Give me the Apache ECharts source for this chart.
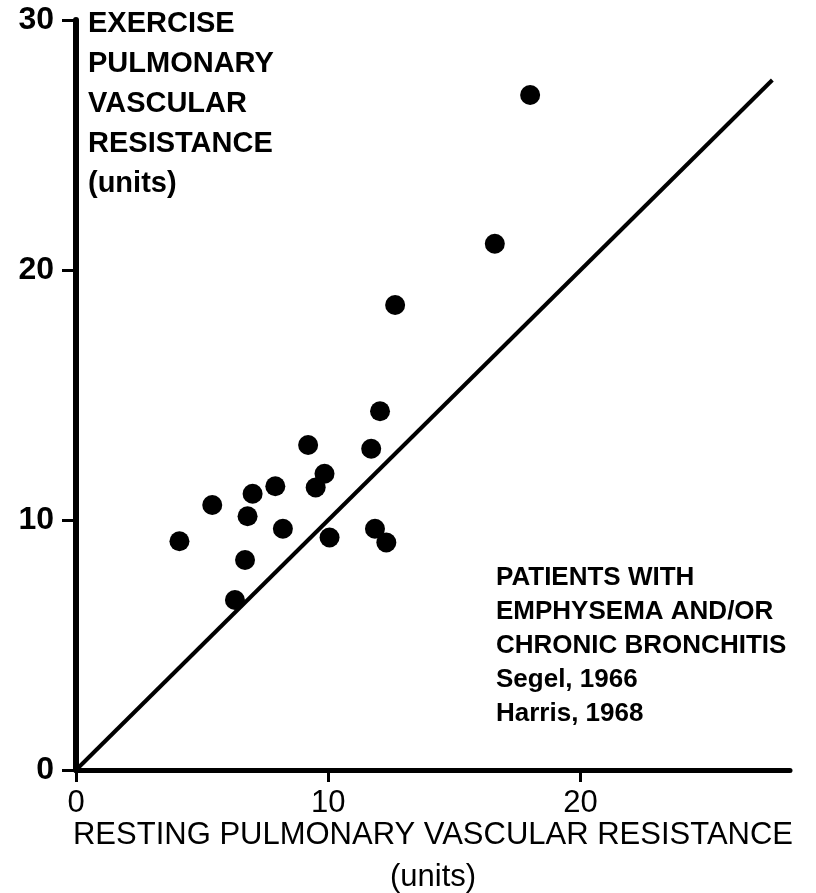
<!DOCTYPE html>
<html>
<head>
<meta charset="utf-8">
<script src="https://cdn.jsdelivr.net/npm/echarts@6/dist/echarts.min.js"></script>
<style>
  html, body { margin: 0; padding: 0; background: #fff; }
  #chart { width: 816px; height: 893px; }
</style>
</head>
<body>
<div id="chart"></div>
<script>
// resting vs exercise PVR, one point per patient
const restingPVR = [4.1, 5.4, 7.0, 6.8, 6.7, 6.3, 7.9, 8.2, 9.2, 9.5, 9.85, 10.05, 11.7, 12.05, 11.85, 12.3, 12.65, 16.6, 18.0]
const exercisePVR = [9.15, 10.6, 11.05, 10.15, 8.4, 6.8, 11.35, 9.65, 13.0, 11.3, 11.85, 9.3, 12.85, 14.35, 9.65, 9.1, 18.6, 21.05, 27.0]
const identityLine = [0, 27.6]
const xTicks = [0, 10, 20]
const yTicks = [0, 10, 20, 30]

const font = 'Liberation Sans, Arial, sans-serif'
const ink = '#000'

const points = restingPVR.map(function(x, i) { return [x, exercisePVR[i]] })

const myChart = echarts.init(document.getElementById('chart'))

myChart.setOption({
  backgroundColor: '#fff',
  animation: false,
  grid: { left: 76, top: 20, right: 26, bottom: 123, outerBoundsMode: 'none', containLabel: false },
  xAxis: {
    type: 'value',
    min: 0,
    max: 28.3,
    name: 'RESTING PULMONARY VASCULAR RESISTANCE\n(units)',
    nameLocation: 'middle',
    nameGap: 44,
    nameMoveOverlap: false,
    nameTextStyle: { fontFamily: font, fontSize: 31, color: ink, lineHeight: 42, verticalAlign: 'top' },
    axisLine: { lineStyle: { color: ink, width: 5 } },
    axisTick: { customValues: xTicks, length: 12, lineStyle: { color: ink, width: 3 } },
    axisLabel: { customValues: xTicks, fontFamily: font, fontSize: 31, color: ink, margin: 18 },
    splitLine: { show: false }
  },
  yAxis: {
    type: 'value',
    min: 0,
    max: 30,
    interval: 10,
    axisLine: { lineStyle: { color: ink, width: 6 } },
    axisTick: { customValues: yTicks, length: 14, lineStyle: { color: ink, width: 3 } },
    axisLabel: { customValues: yTicks, fontFamily: font, fontSize: 32, fontWeight: 'bold', color: ink, margin: 22 },
    splitLine: { show: false }
  },
  graphic: [
    {
      type: 'text',
      left: 88,
      top: 4,
      style: {
        text: 'EXERCISE\nPULMONARY\nVASCULAR\nRESISTANCE\n(units)',
        font: 'bold 29px ' + font,
        fill: ink,
        lineHeight: 40
      }
    },
    {
      type: 'text',
      left: 496,
      top: 561,
      style: {
        text: 'PATIENTS WITH\nEMPHYSEMA AND/OR\nCHRONIC BRONCHITIS\nSegel, 1966\nHarris, 1968',
        font: 'bold 26px ' + font,
        fill: ink,
        lineHeight: 34
      }
    }
  ],
  series: [
    {
      type: 'line',
      data: [[identityLine[0], identityLine[0]], [identityLine[1], identityLine[1]]],
      symbol: 'none',
      lineStyle: { color: ink, width: 4 },
      z: 2
    },
    {
      type: 'scatter',
      data: points,
      symbolSize: 20,
      itemStyle: { color: ink, opacity: 1 },
      z: 3
    }
  ]
})
</script>
</body>
</html>
